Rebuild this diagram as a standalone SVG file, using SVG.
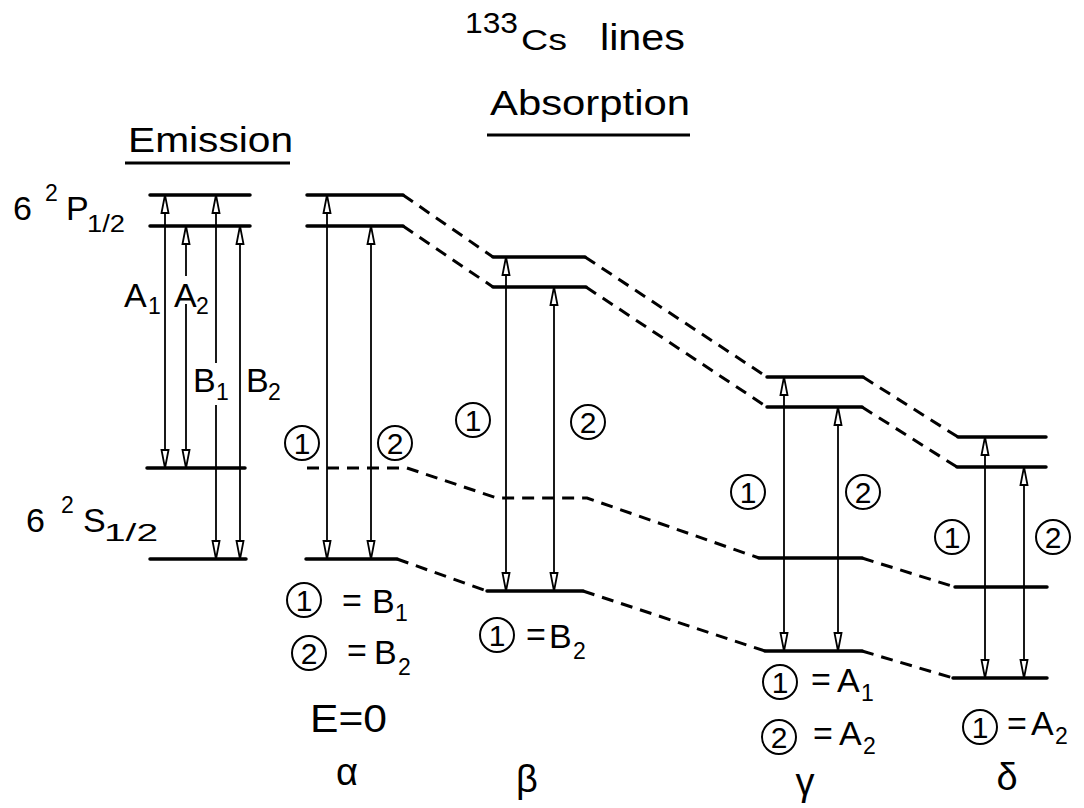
<svg xmlns="http://www.w3.org/2000/svg" width="1084" height="808" viewBox="0 0 1084 808">
<style>
text{font-family:"Liberation Sans","DejaVu Sans",sans-serif;fill:#000}
.big{font-size:34px}
.sub{font-size:23px}
.cn{font-size:30px;text-anchor:middle}
.gr{font-size:38px;text-anchor:middle}
.lvl{stroke:#000;stroke-width:3.5;stroke-linecap:round;fill:none}
.dash{stroke:#000;stroke-width:3;stroke-dasharray:12 8;fill:none}
.arr{stroke:#000;stroke-width:1.8;fill:none}
.both{marker-start:url(#ah);marker-end:url(#ah)}
.up{marker-start:url(#ah)}
.dn{marker-end:url(#ah)}
.circ{stroke:#000;stroke-width:2;fill:none}
.ul{stroke:#000;stroke-width:3}
</style>
<defs>
<marker id="ah" viewBox="0 0 20 10" refX="19" refY="5" markerWidth="20" markerHeight="10" markerUnits="userSpaceOnUse" orient="auto-start-reverse">
<path d="M1,1.5 L19,5 L1,8.5 Z" fill="#fff" stroke="#000" stroke-width="1.8"/>
</marker>
</defs>
<rect width="1084" height="808" fill="#fff"/>

<g id="title">
<text x="465" y="33" font-size="29" textLength="53" lengthAdjust="spacingAndGlyphs">133</text>
<text x="521" y="50" font-size="30" textLength="46" lengthAdjust="spacingAndGlyphs">Cs</text>
<text x="600" y="50" font-size="36" textLength="85" lengthAdjust="spacingAndGlyphs">lines</text>
<text x="490" y="115" font-size="35" textLength="200" lengthAdjust="spacingAndGlyphs">Absorption</text>
<line class="ul" x1="487" y1="135" x2="690" y2="135"/>
<text x="128" y="152" font-size="35" textLength="165" lengthAdjust="spacingAndGlyphs">Emission</text>
<line class="ul" x1="125" y1="163" x2="290" y2="163"/>
</g>

<g id="state-labels">
<text class="big" x="13" y="220">6</text>
<text class="sub" x="45" y="201">2</text>
<text class="big" x="66" y="220">P</text>
<text class="sub" x="87" y="232" textLength="38" lengthAdjust="spacingAndGlyphs">1/2</text>
<text class="big" x="26" y="532">6</text>
<text class="sub" x="61" y="513">2</text>
<text class="big" x="83" y="532">S</text>
<text class="sub" x="104" y="541" textLength="54" lengthAdjust="spacingAndGlyphs">1/2</text>
</g>

<g id="connectors">
<path class="dash" d="M403,195 L493,257 M585,257 L767,377 M863,377 L958,437"/>
<path class="dash" d="M403,226 L493,287 M586,287 L767,407 M862,407 L957,467"/>
<path class="dash" d="M307,468 L407,468 L497,498 L587,498 L759,558 M862,558 L955,587"/>
<path class="dash" d="M397,559 L487,591 M583,591 L765,651 M862,651 L953,678"/>
</g>

<g id="emission">
<line class="lvl" x1="150" y1="195" x2="250" y2="195"/>
<line class="lvl" x1="150" y1="226" x2="250" y2="226"/>
<line class="lvl" x1="147" y1="468" x2="245" y2="468"/>
<line class="lvl" x1="150" y1="559" x2="246" y2="559"/>
<path class="arr both" d="M165,195 V468"/>
<path class="arr up" d="M186,226 V276"/>
<path class="arr dn" d="M186,304 V468"/>
<path class="arr up" d="M216,195 V363"/>
<path class="arr dn" d="M216,405 V559"/>
<path class="arr both" d="M240,226 V559"/>
<text class="big" x="124" y="307">A</text><text class="sub" x="148" y="314">1</text>
<text class="big" x="174" y="307">A</text><text class="sub" x="196" y="314">2</text>
<text class="big" x="193" y="392">B</text><text class="sub" x="216" y="400">1</text>
<text class="big" x="246" y="392">B</text><text class="sub" x="268" y="400">2</text>
</g>

<g id="alpha">
<line class="lvl" x1="307" y1="195" x2="403" y2="195"/>
<line class="lvl" x1="307" y1="226" x2="403" y2="226"/>
<line class="lvl" x1="306" y1="559" x2="397" y2="559"/>
<path class="arr both" d="M327,195 V559"/>
<path class="arr both" d="M371,226 V559"/>
<circle class="circ" cx="302" cy="443" r="17"/><text class="cn" x="302" y="454">1</text>
<circle class="circ" cx="395" cy="443" r="17"/><text class="cn" x="395" y="454">2</text>
<circle class="circ" cx="304" cy="600" r="17"/><text class="cn" x="304" y="611">1</text>
<text class="big" x="342" y="612">=</text><text class="big" x="372" y="613">B</text><text class="sub" x="395" y="621">1</text>
<circle class="circ" cx="309" cy="653" r="17"/><text class="cn" x="309" y="664">2</text>
<text class="big" x="347" y="662">=</text><text class="big" x="374" y="664">B</text><text class="sub" x="398" y="675">2</text>
<text x="310" y="732" font-size="38" textLength="77" lengthAdjust="spacingAndGlyphs">E=0</text>
<text class="gr" x="347" y="785">α</text>
</g>

<g id="beta">
<line class="lvl" x1="493" y1="257" x2="585" y2="257"/>
<line class="lvl" x1="493" y1="287" x2="586" y2="287"/>
<line class="lvl" x1="487" y1="591" x2="583" y2="591"/>
<path class="arr both" d="M506,257 V591"/>
<path class="arr both" d="M554,287 V591"/>
<circle class="circ" cx="473" cy="420" r="17"/><text class="cn" x="473" y="431">1</text>
<circle class="circ" cx="588" cy="422" r="17"/><text class="cn" x="588" y="433">2</text>
<circle class="circ" cx="497" cy="635" r="17"/><text class="cn" x="497" y="646">1</text>
<text class="big" x="526" y="646">=</text><text class="big" x="549" y="648">B</text><text class="sub" x="573" y="659">2</text>
<text class="gr" x="527" y="792">β</text>
</g>

<g id="gamma">
<line class="lvl" x1="767" y1="377" x2="863" y2="377"/>
<line class="lvl" x1="767" y1="407" x2="862" y2="407"/>
<line class="lvl" x1="759" y1="558" x2="862" y2="558"/>
<line class="lvl" x1="765" y1="651" x2="862" y2="651"/>
<path class="arr both" d="M784,377 V651"/>
<path class="arr both" d="M838,407 V651"/>
<circle class="circ" cx="748" cy="492" r="17"/><text class="cn" x="748" y="503">1</text>
<circle class="circ" cx="863" cy="492" r="17"/><text class="cn" x="863" y="503">2</text>
<circle class="circ" cx="780" cy="682" r="17"/><text class="cn" x="780" y="693">1</text>
<text class="big" x="811" y="691">=</text><text class="big" x="837" y="692">A</text><text class="sub" x="861" y="701">1</text>
<circle class="circ" cx="779" cy="737" r="17"/><text class="cn" x="779" y="748">2</text>
<text class="big" x="813" y="745">=</text><text class="big" x="839" y="745">A</text><text class="sub" x="863" y="754">2</text>
<text class="gr" x="805" y="795">γ</text>
</g>

<g id="delta">
<line class="lvl" x1="958" y1="437" x2="1046" y2="437"/>
<line class="lvl" x1="957" y1="467" x2="1046" y2="467"/>
<line class="lvl" x1="955" y1="587" x2="1047" y2="587"/>
<line class="lvl" x1="953" y1="678" x2="1047" y2="678"/>
<path class="arr both" d="M985,437 V678"/>
<path class="arr both" d="M1024,467 V678"/>
<circle class="circ" cx="952" cy="537" r="17"/><text class="cn" x="952" y="548">1</text>
<circle class="circ" cx="1053" cy="537" r="17"/><text class="cn" x="1053" y="548">2</text>
<circle class="circ" cx="980" cy="727" r="17"/><text class="cn" x="980" y="738">1</text>
<text class="big" x="1007" y="735">=</text><text class="big" x="1031" y="735">A</text><text class="sub" x="1055" y="744">2</text>
<text class="gr" x="1007" y="790">δ</text>
</g>
</svg>
